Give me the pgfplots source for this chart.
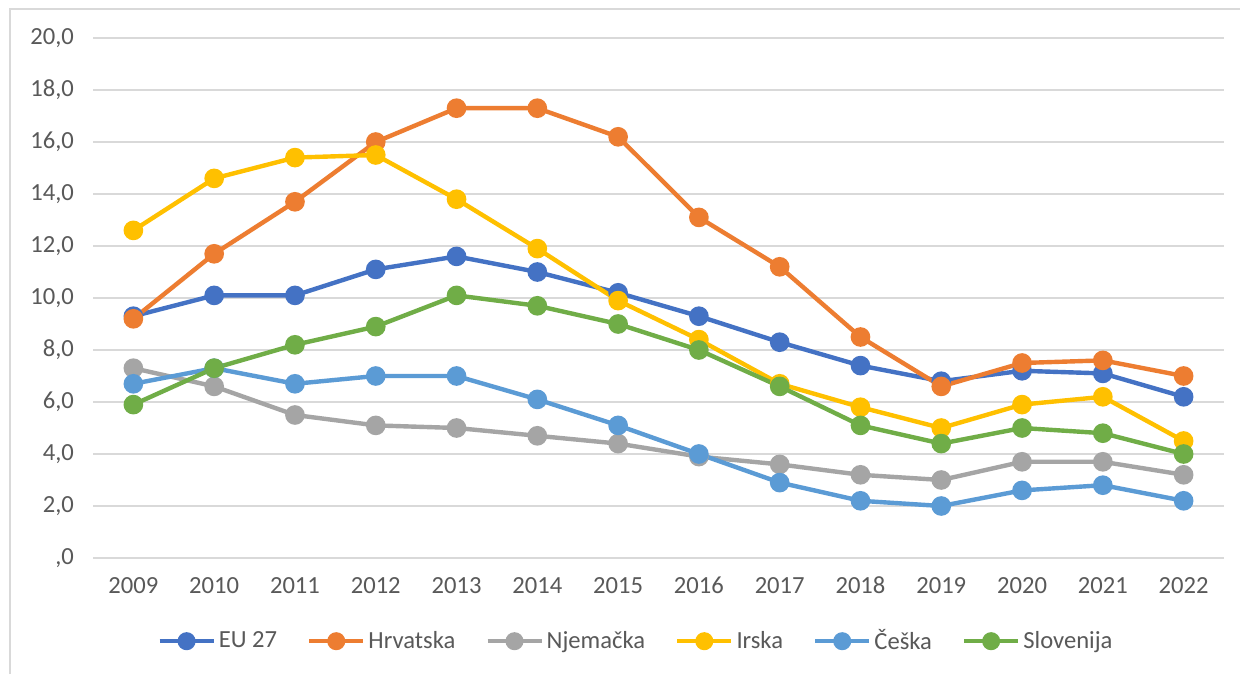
\documentclass[border=0pt]{standalone}
\usepackage{pgfplots}
\pgfplotsset{compat=1.18}
\usepackage{fontspec}
\setmainfont{Carlito}
\definecolor{cEU}{HTML}{4472C4}
\definecolor{cHR}{HTML}{ED7D31}
\definecolor{cDE}{HTML}{A5A5A5}
\definecolor{cIE}{HTML}{FFC000}
\definecolor{cCZ}{HTML}{5B9BD5}
\definecolor{cSI}{HTML}{70AD47}
\definecolor{gridc}{HTML}{D9D9D9}
\definecolor{txt}{HTML}{595959}
\begin{document}
\begin{tikzpicture}[x=0.5pt,y=0.5pt]
\path[use as bounding box] (0,0) rectangle (1240,674);
\fill[white] (0,0) rectangle (1240,674);
\draw[gridc, line width=0.8pt] (10,0) -- (10,665) -- (1240,665);
\begin{axis}[
  at={(93*0.5pt,116*0.5pt)}, anchor=south west,
  scale only axis, width=565.5pt, height=260pt,
  xmin=-0.5, xmax=13.5, ymin=0, ymax=20,
  axis line style={draw=none},
  tick style={draw=none},
  ymajorgrids, grid style={gridc, line width=0.8pt},
  xtick={0,...,13},
  xticklabels={2009,2010,2011,2012,2013,2014,2015,2016,2017,2018,2019,2020,2021,2022},
  ytick={0,2,...,20},
  yticklabels={{,0},{2,0},{4,0},{6,0},{8,0},{10,0},{12,0},{14,0},{16,0},{18,0},{20,0}},
  ticklabel style={font=\fontsize{12.3}{14}\selectfont, text=txt},
  xticklabel style={yshift=-6pt},
  yticklabel style={xshift=-6pt},
  every axis plot/.append style={line width=2.2pt, mark=*, mark size=3.8pt, mark options={solid}},
  legend columns=6,
  legend style={at={(0.4805,-0.16)}, anchor=center, draw=none, fill=none,
    font=\fontsize{12.3}{14}\selectfont, text=txt,
    nodes={inner xsep=1.5pt},
    /tikz/every even column/.append style={column sep=13.5pt}},
  legend cell align=left,
  legend image code/.code={
    \draw[#1, mark=none] (0pt,0pt) -- (27pt,0pt);
    \fill[#1] (13.5pt,0pt) circle (3.4pt);
  },
]
\addplot[cEU] coordinates {(0,9.3)(1,10.1)(2,10.1)(3,11.1)(4,11.6)(5,11.0)(6,10.2)(7,9.3)(8,8.3)(9,7.4)(10,6.8)(11,7.2)(12,7.1)(13,6.2)};
\addlegendentry{EU 27}
\addplot[cHR] coordinates {(0,9.2)(1,11.7)(2,13.7)(3,16.0)(4,17.3)(5,17.3)(6,16.2)(7,13.1)(8,11.2)(9,8.5)(10,6.6)(11,7.5)(12,7.6)(13,7.0)};
\addlegendentry{Hrvatska}
\addplot[cDE] coordinates {(0,7.3)(1,6.6)(2,5.5)(3,5.1)(4,5.0)(5,4.7)(6,4.4)(7,3.9)(8,3.6)(9,3.2)(10,3.0)(11,3.7)(12,3.7)(13,3.2)};
\addlegendentry{Njemačka}
\addplot[cIE] coordinates {(0,12.6)(1,14.6)(2,15.4)(3,15.5)(4,13.8)(5,11.9)(6,9.9)(7,8.4)(8,6.7)(9,5.8)(10,5.0)(11,5.9)(12,6.2)(13,4.5)};
\addlegendentry{Irska}
\addplot[cCZ] coordinates {(0,6.7)(1,7.3)(2,6.7)(3,7.0)(4,7.0)(5,6.1)(6,5.1)(7,4.0)(8,2.9)(9,2.2)(10,2.0)(11,2.6)(12,2.8)(13,2.2)};
\addlegendentry{Češka}
\addplot[cSI] coordinates {(0,5.9)(1,7.3)(2,8.2)(3,8.9)(4,10.1)(5,9.7)(6,9.0)(7,8.0)(8,6.6)(9,5.1)(10,4.4)(11,5.0)(12,4.8)(13,4.0)};
\addlegendentry{Slovenija}
\end{axis}
\end{tikzpicture}
\end{document}
